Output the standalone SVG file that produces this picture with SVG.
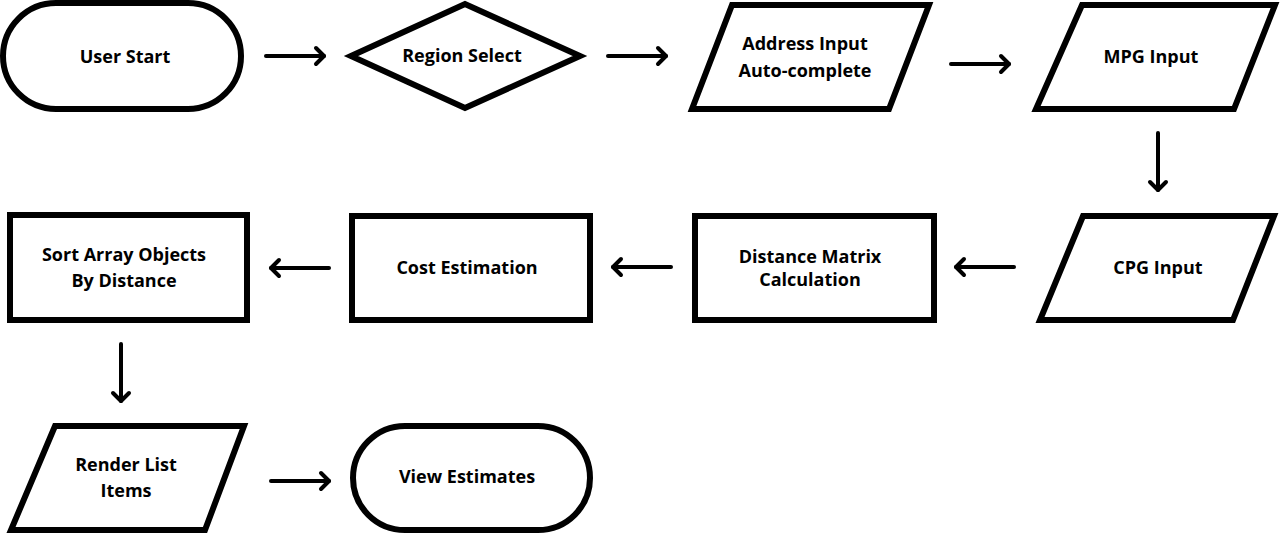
<svg xmlns="http://www.w3.org/2000/svg" width="1280" height="534" viewBox="0 0 1280 534">
<style>
.s{fill:#fff;stroke:#000;stroke-width:6;stroke-linejoin:miter}
.t{font-family:"Open Sans","DejaVu Sans",sans-serif;font-weight:700;font-size:18px;fill:#000;text-anchor:middle;dominant-baseline:central}
.c{fill:none;stroke:#000;stroke-width:4;stroke-linecap:round}
</style>
<defs>
<marker id="ah" markerUnits="userSpaceOnUse" markerWidth="24" markerHeight="24" viewBox="-12 -12 24 24" refX="0" refY="0" orient="auto" overflow="visible">
<path d="M-8,-8 L0,0 L-8,8" fill="none" stroke="#000" stroke-width="4" stroke-linecap="round" stroke-linejoin="round"/>
</marker>
</defs>
<rect width="1280" height="534" fill="#fff"/>
<g id="connectors">
<line class="c" x1="266" y1="56" x2="324" y2="56" marker-end="url(#ah)"/>
<line class="c" x1="608" y1="56" x2="666" y2="56" marker-end="url(#ah)"/>
<line class="c" x1="951" y1="64" x2="1009" y2="64" marker-end="url(#ah)"/>
<line class="c" x1="1158" y1="133" x2="1158" y2="190" marker-end="url(#ah)"/>
<line class="c" x1="1014" y1="267" x2="956" y2="267" marker-end="url(#ah)"/>
<line class="c" x1="671" y1="267" x2="613" y2="267" marker-end="url(#ah)"/>
<line class="c" x1="329" y1="268" x2="271" y2="268" marker-end="url(#ah)"/>
<line class="c" x1="121" y1="344" x2="121" y2="401" marker-end="url(#ah)"/>
<line class="c" x1="271" y1="481" x2="329" y2="481" marker-end="url(#ah)"/>
</g>
<g id="user-start">
<rect class="s" x="3" y="3" width="238" height="106" rx="53" ry="53"/>
<text class="t" x="125" y="56">User Start</text>
</g>
<g id="region-select">
<polygon class="s" points="351,56 465,4 580,56 465,108"/>
<text class="t" x="462" y="55">Region Select</text>
</g>
<g id="address-input">
<polygon class="s" points="732,5 929,5 889,109 692,109"/>
<text class="t" x="805" y="43">Address Input</text>
<text class="t" x="805" y="70">Auto-complete</text>
</g>
<g id="mpg-input">
<polygon class="s" points="1082,5 1275,5 1234,109 1036,109"/>
<text class="t" x="1151" y="56">MPG Input</text>
</g>
<g id="cpg-input">
<polygon class="s" points="1083,216 1274,216 1233,320 1040,320"/>
<text class="t" x="1158" y="267">CPG Input</text>
</g>
<g id="distance-matrix">
<rect class="s" x="695" y="216" width="239" height="104"/>
<text class="t" x="810" y="256">Distance Matrix</text>
<text class="t" x="810" y="279">Calculation</text>
</g>
<g id="cost-estimation">
<rect class="s" x="352" y="216" width="238" height="104"/>
<text class="t" x="467" y="267">Cost Estimation</text>
</g>
<g id="sort-array">
<rect class="s" x="10" y="215" width="237" height="105"/>
<text class="t" x="124" y="254">Sort Array Objects</text>
<text class="t" x="124" y="280">By Distance</text>
</g>
<g id="render-list">
<polygon class="s" points="55,426 244,426 205,530 11,530"/>
<text class="t" x="126" y="464">Render List</text>
<text class="t" x="126" y="490">Items</text>
</g>
<g id="view-estimates">
<rect class="s" x="353" y="426" width="237" height="104" rx="52" ry="52"/>
<text class="t" x="467" y="476">View Estimates</text>
</g>
</svg>
